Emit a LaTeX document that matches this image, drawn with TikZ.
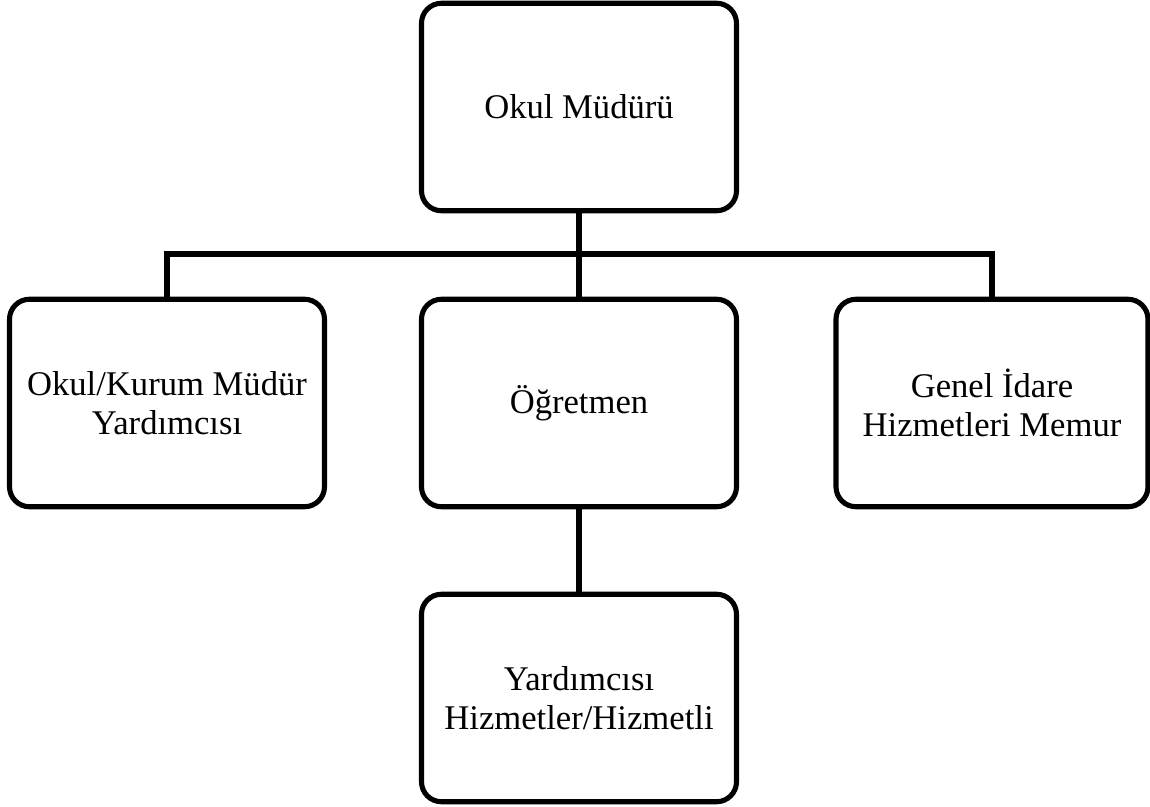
\documentclass[tikz,border=0pt]{standalone}
\usepackage{fontspec}
\setmainfont{Liberation Serif}
\usepackage{tikz}
\usetikzlibrary{positioning}
\tikzset{unit node/.style={rectangle, draw=black, line width=2.9pt,
    rounded corners=0.4cm, align=center, inner sep=0pt,
    font=\fontsize{19.7}{22.5}\selectfont}}
\tikzset{wide unit/.style={unit node, minimum width=6.3cm, minimum height=4.15cm}}
\tikzset{org edge/.style={draw=black, line width=2.9pt}}

\begin{document}
\begin{tikzpicture}
      \useasboundingbox (0,0) rectangle (23,-16.14);

      \node [wide unit]   (mudur)     at (11.58, -2.14) {Okul Müdürü};
      \node [wide unit]   (yardimci)  at ( 3.34, -8.06) {Okul/Kurum Müdür\\Yardımcısı};
      \node [wide unit]   (ogretmen)  at (11.58, -8.06) {Öğretmen};
      \node [wide unit, minimum width=6.24cm]
                          (memur)     at (19.84, -8.06) {Genel İdare\\Hizmetleri Memur};
      \node [wide unit]   (hizmetli)  at (11.58,-13.96) {Yardımcısı\\Hizmetler/Hizmetli};
      \coordinate         (bus)       at (11.58, -5.08);

      \draw [org edge]  (mudur) -- (ogretmen);
      \draw [org edge]  (yardimci.north) -- (yardimci.north |- bus)
                        -- (memur.north |- bus) -- (memur.north);
      \draw [org edge]  (ogretmen) -- (hizmetli);
\end{tikzpicture}
\end{document}
